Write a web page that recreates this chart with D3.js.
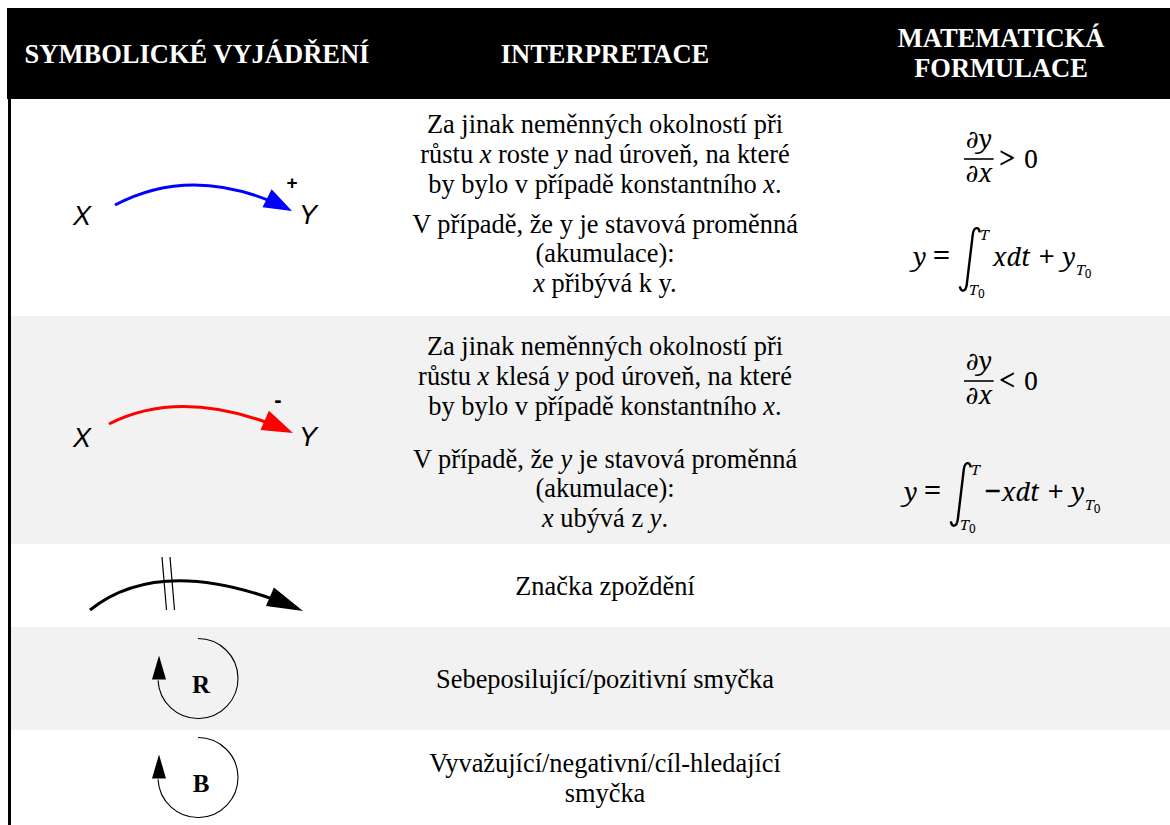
<!DOCTYPE html>
<html>
<head>
<meta charset="utf-8">
<script src="https://cdn.jsdelivr.net/npm/d3@7/dist/d3.min.js"></script>
<style>
body { margin: 0; background: #fff; }
svg { display: block; }
</style>
</head>
<body>
<div id="vis"></div>
<script>
var w = 1170;
var h = 825;

// tabulka - data
var headers = [["SYMBOLICKÉ VYJÁDŘENÍ"], ["INTERPRETACE"], ["MATEMATICKÁ", "FORMULACE"]];
var symbols = ["plus", "minus", "delay", "R", "B"];
var polarity = ["+", "-", null, null, null];
var linkColors = ["#0000ff", "#ff0000", "#000000", null, null];
var interpretations = [
	[["Za jinak neměnných okolností při", "růstu *x* roste *y* nad úroveň, na které", "by bylo v případě konstantního *x*."],
	 ["V případě, že y je stavová proměnná", "(akumulace):", "*x* přibývá k y."]],
	[["Za jinak neměnných okolností při", "růstu *x* klesá *y* pod úroveň, na které", "by bylo v případě konstantního *x*."],
	 ["V případě, že *y* je stavová proměnná", "(akumulace):", "*x* ubývá z *y*."]],
	[["Značka zpoždění"]],
	[["Sebeposilující/pozitivní smyčka"]],
	[["Vyvažující/negativní/cíl-hledající", "smyčka"]]
];
var derivRelations = [">", "<", null, null, null];
var integrands = ["xdt", "−xdt", null, null, null];
var shaded = [false, true, false, true, false];

// layout
var serif = "'Liberation Serif', 'Times New Roman', serif";
var sans = "'Liberation Sans', Arial, sans-serif";
var mathFont = "'Noto Serif', 'DejaVu Serif', serif";
var rowBounds = [99, 316, 544, 627, 730, 825];
var firstLine = [34, 39];
var paraGap = [40, 53];
var lineH = 29.8;

var col = d3.scaleOrdinal().domain([0, 1, 2]).range([197, 605, 1001]);
var rowTop = d3.scaleOrdinal().domain(d3.range(5)).range(rowBounds.slice(0, 5));
var rowBottom = d3.scaleOrdinal().domain(d3.range(5)).range(rowBounds.slice(1));

var svg = d3.select("#vis")
	.append("svg")
	.attr("width", w)
	.attr("height", h);

svg.append("rect").attr("width", w).attr("height", h).attr("fill", "#fff");

// hlavicka
svg.append("rect")
	.attr("x", 7).attr("y", 8)
	.attr("width", w - 7).attr("height", rowBounds[0] - 8)
	.attr("fill", "#000");

headers.forEach(function(lines, i) {
	lines.forEach(function(txt, k) {
		svg.append("text")
			.text(txt)
			.attr("x", col(i))
			.attr("y", (lines.length == 1 ? 63 : 47) + k * 30)
			.attr("text-anchor", "middle")
			.attr("fill", "#fff")
			.style("font-family", serif)
			.style("font-weight", "bold")
			.style("font-size", "26.5px");
	});
});

// radky
svg.selectAll("rect.row")
	.data(shaded)
	.enter()
	.append("rect")
	.attr("class", "row")
	.attr("x", 10)
	.attr("y", function(d, i) { return rowTop(i); })
	.attr("width", w - 10)
	.attr("height", function(d, i) { return rowBottom(i) - rowTop(i); })
	.attr("fill", function(d) { return d ? "#f2f2f2" : "#fff"; });

svg.append("rect")
	.attr("x", 8).attr("y", rowBounds[0])
	.attr("width", 3).attr("height", h - rowBounds[0])
	.attr("fill", "#000");

function addLine(str, x, y) {
	var t = svg.append("text")
		.attr("x", x).attr("y", y)
		.attr("text-anchor", "middle")
		.style("font-family", serif)
		.style("font-weight", "normal")
		.style("font-size", "26.4px")
		.attr("fill", "#000");
	str.split("*").forEach(function(part, i) {
		if (part === "") return;
		t.append("tspan").text(part).style("font-style", i % 2 ? "italic" : "normal");
	});
	return t;
}

// interpretace
var lineY = [];
interpretations.forEach(function(paras, r) {
	lineY[r] = [];
	if (paras.length > 1) {
		var y = rowTop(r) + firstLine[r];
		paras.forEach(function(lines, p) {
			if (p > 0) y += paraGap[r] - lineH;
			lines.forEach(function(l) {
				addLine(l, col(1), y);
				lineY[r].push(y);
				y += lineH;
			});
		});
	} else {
		var lines = paras[0];
		var mid = (rowTop(r) + rowBottom(r)) / 2 + 9;
		lines.forEach(function(l, k) {
			var y = mid + (k - (lines.length - 1) / 2) * 30;
			addLine(l, col(1), y);
			lineY[r].push(y);
		});
	}
});

// sipky
function quadPoint(p0, p1, p2, t) {
	var a = (1 - t) * (1 - t), b = 2 * (1 - t) * t, c = t * t;
	return [a * p0[0] + b * p1[0] + c * p2[0], a * p0[1] + b * p1[1] + c * p2[1]];
}

function drawLink(p0, p1, p2, color, len, wid, sw) {
	// zkratit krivku pred hrotem
	var t = 1;
	while (t > 0.5) {
		var q = quadPoint(p0, p1, p2, t);
		if (Math.hypot(p2[0] - q[0], p2[1] - q[1]) >= len * 0.7) break;
		t -= 0.005;
	}
	var c1 = [p0[0] + (p1[0] - p0[0]) * t, p0[1] + (p1[1] - p0[1]) * t];
	var end = quadPoint(p0, p1, p2, t);
	var path = d3.path();
	path.moveTo(p0[0], p0[1]);
	path.quadraticCurveTo(c1[0], c1[1], end[0], end[1]);
	svg.append("path")
		.attr("d", path.toString())
		.attr("fill", "none")
		.attr("stroke", color)
		.attr("stroke-width", sw);
	var dx = p2[0] - p1[0], dy = p2[1] - p1[1];
	var d = Math.hypot(dx, dy);
	var ux = dx / d, uy = dy / d;
	var bx = p2[0] - ux * len, by = p2[1] - uy * len;
	var head = [[p2[0], p2[1]], [bx - uy * wid / 2, by + ux * wid / 2], [bx + uy * wid / 2, by - ux * wid / 2]];
	svg.append("polygon")
		.attr("points", head.map(function(p) { return p.join(","); }).join(" "))
		.attr("fill", color);
}

function xyLabels(r, dy) {
	var top = rowTop(r);
	svg.append("text").text("X")
		.attr("x", 73).attr("y", top + dy)
		.style("font-family", sans).style("font-style", "italic")
		.style("font-size", "27px");
	svg.append("text").text("Y")
		.attr("x", 299).attr("y", top + dy - 1)
		.style("font-family", sans).style("font-style", "italic")
		.style("font-size", "27px");
}

symbols.forEach(function(s, r) {
	var top = rowTop(r);
	if (s == "plus") {
		xyLabels(r, 126);
		drawLink([115, top + 106], [196, top + 63], [292, top + 112], linkColors[r], 28, 20, 3);
	} else if (s == "minus") {
		xyLabels(r, 131);
		drawLink([109, top + 108], [185, top + 69], [293, top + 117], linkColors[r], 31, 21, 3);
	} else if (s == "delay") {
		drawLink([90, top + 66], [164, top + 7], [303, top + 67], linkColors[r], 36, 20, 3);
		[162, 170].forEach(function(x) {
			svg.append("line")
				.attr("x1", x).attr("y1", top + 13)
				.attr("x2", x + 4.5).attr("y2", top + 66)
				.attr("stroke", "#000").attr("stroke-width", 1.2);
		});
	} else {
		var cy = (top + rowBottom(r)) / 2, cx = 198, rad = 40;
		var p = d3.path();
		p.arc(cx, cy, rad, -Math.PI / 2, Math.PI * 0.985, false);
		svg.append("path")
			.attr("d", p.toString())
			.attr("fill", "none")
			.attr("stroke", "#000")
			.attr("stroke-width", 1.1);
		var ax = cx - rad + 1;
		svg.append("polygon")
			.attr("points", [[ax, cy - 23], [ax - 7, cy + 1], [ax + 7, cy + 1]].map(function(q) { return q.join(","); }).join(" "))
			.attr("fill", "#000");
		svg.append("text").text(s)
			.attr("x", cx + 3).attr("y", cy + 14)
			.attr("text-anchor", "middle")
			.style("font-family", serif).style("font-weight", "bold")
			.style("font-size", "25px");
	}
	if (polarity[r]) {
		svg.append("text").text(polarity[r])
			.attr("x", polarity[r] == "+" ? 292 : 278)
			.attr("y", polarity[r] == "+" ? top + 90 : top + 91)
			.attr("text-anchor", "middle")
			.style("font-family", sans).style("font-weight", "bold")
			.style("font-size", polarity[r] == "+" ? "19px" : "22px");
	}
});

// matematika
function mtext(g, str, x, y, size, italic, anchor) {
	return g.append("text").text(str)
		.attr("x", x).attr("y", y)
		.style("font-family", mathFont)
		.style("font-style", italic ? "italic" : "normal")
		.attr("text-anchor", anchor || "start")
		.style("font-size", size + "px");
}

function sub0(t) {
	t.append("tspan").text("0")
		.style("font-style", "normal")
		.style("font-size", "12px")
		.attr("dy", 3);
}

function fraction(r, bar) {
	var g = svg.append("g");
	var num = mtext(g, "∂y", 0, bar - 11, 25, true, "middle");
	var den = mtext(g, "∂x", 0, bar + 23, 25, true, "middle");
	var bw = Math.max(num.node().getComputedTextLength(), den.node().getComputedTextLength()) + 3;
	g.append("line")
		.attr("x1", -bw / 2).attr("x2", bw / 2)
		.attr("y1", bar).attr("y2", bar)
		.attr("stroke", "#000").attr("stroke-width", 1.6);
	var rel = mtext(g, derivRelations[r], bw / 2 + 5, bar + 10, 31, false);
	mtext(g, "0", bw / 2 + 5 + rel.node().getComputedTextLength() + 8, bar + 9, 25, false);
	var bb = g.node().getBBox();
	g.attr("transform", "translate(" + (col(2) - (bb.x + bb.width / 2)) + ",0)");
}

function integral(r, b) {
	var g = svg.append("g");
	var x = 0;
	var t = mtext(g, "y", x, b, 25, true);
	x += t.node().getComputedTextLength() + 6;
	t = mtext(g, "=", x, b + 1, 33, false);
	x += t.node().getComputedTextLength() + 9;
	var ip = d3.path();
	ip.moveTo(x, b + 20);
	ip.bezierCurveTo(x + 1, b + 26, x + 6, b + 26, x + 7, b + 18);
	ip.lineTo(x + 13, b - 32);
	ip.bezierCurveTo(x + 14, b - 40, x + 19, b - 40, x + 20, b - 34);
	g.append("path").attr("d", ip.toString())
		.attr("fill", "none").attr("stroke", "#000").attr("stroke-width", 2.4);
	mtext(g, "T", x + 20, b - 26, 15, true);
	sub0(mtext(g, "T", x + 9, b + 29, 15, true));
	x += 33;
	var expr = integrands[r];
	t = g.append("text").attr("x", x).attr("y", b)
		.style("font-family", mathFont).style("font-size", "25px");
	if (expr.charAt(0) == "−") {
		t.append("tspan").text("−").style("font-size", "31px").attr("dy", 1);
		expr = expr.slice(1);
	}
	t.append("tspan").text(expr).style("font-style", "italic").attr("dy", expr == integrands[r] ? 0 : -1);
	x += t.node().getComputedTextLength() + 8;
	t = mtext(g, "+", x, b + 1, 31, false);
	x += t.node().getComputedTextLength() + 7;
	t = mtext(g, "y", x, b, 25, true);
	x += t.node().getComputedTextLength();
	sub0(mtext(g, "T", x, b + 9, 15, true));
	var bb = g.node().getBBox();
	g.attr("transform", "translate(" + (col(2) - 1 - (bb.x + bb.width / 2)) + ",0)");
}

derivRelations.forEach(function(rel, r) {
	if (!rel) return;
	fraction(r, lineY[r][0] + 26);
	integral(r, lineY[r][4] + 4);
});
</script>
</body>
</html>
